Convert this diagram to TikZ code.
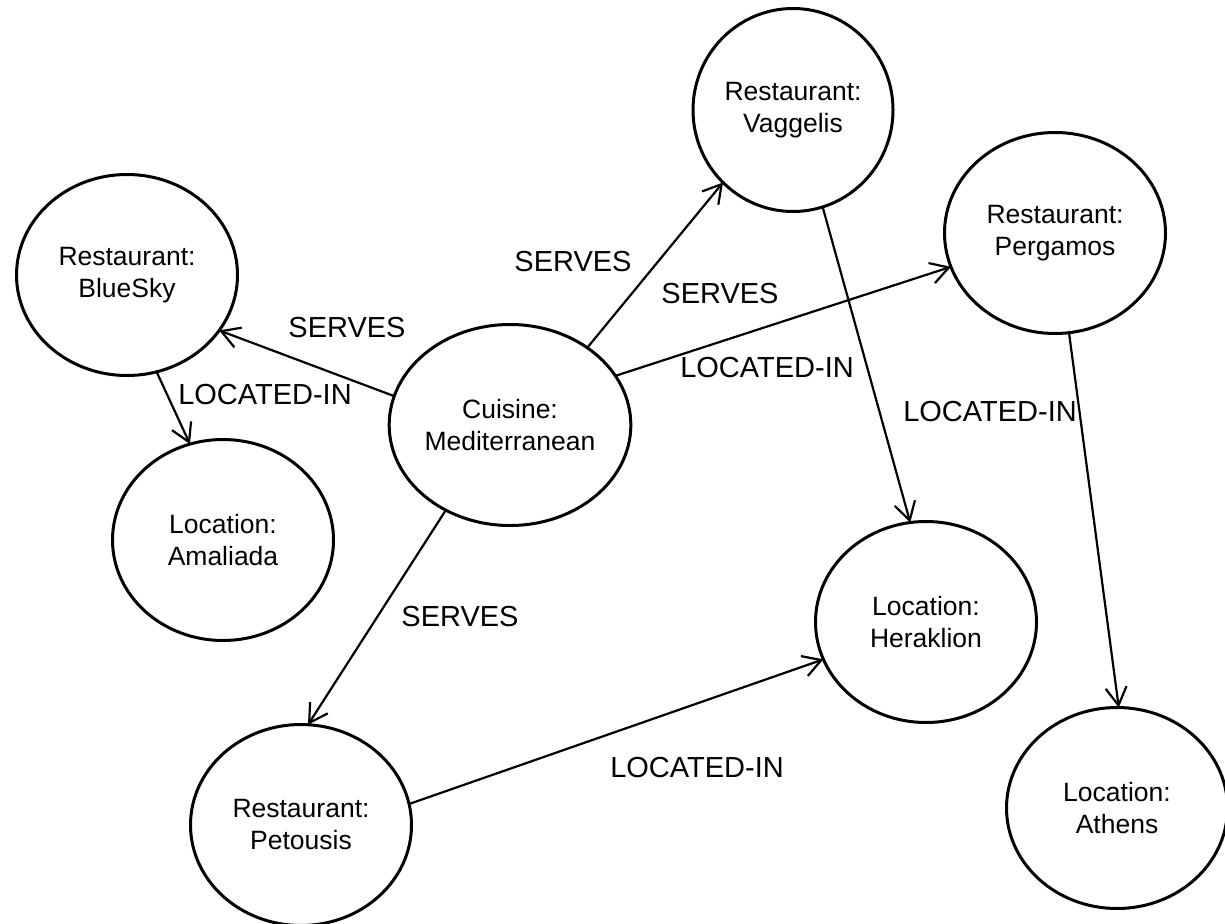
\documentclass[tikz,border=0pt]{standalone}
\usepackage{fontspec}
\setmainfont{Liberation Sans}
\usetikzlibrary{shapes.geometric,arrows.meta}
\begin{document}
\begin{tikzpicture}[x=1pt,y=-1pt,
  entity/.style={draw, ellipse, line width=3pt, minimum width=221pt, minimum height=201pt,
    inner sep=0pt, outer sep=0pt, align=center, font=\fontsize{26.5}{32}\selectfont},
  rel/.style={line width=2.2pt, -{Straight Barb[length=18pt,width=21pt]}},
  lbl/.style={font=\fontsize{29}{35}\selectfont, inner sep=0pt}]
\useasboundingbox (0,0) rectangle (1225,923);

% entities
\node[entity] (med)   at (510,425)  {Cuisine:\\Mediterranean};
\node[entity] (blue)  at (127,275)  {Restaurant:\\BlueSky};
\node[entity] (amal)  at (223,540)  {Location:\\Amaliada};
\node[entity, minimum width=200pt, minimum height=203pt] (vag) at (793,110) {Restaurant:\\Vaggelis};
\node[entity] (perg)  at (1055,233) {Restaurant:\\Pergamos};
\node[entity] (pet)   at (301,825)  {Restaurant:\\Petousis};
\node[entity] (her)   at (926,622)  {Location:\\Heraklion};
\node[entity] (ath)   at (1117,808) {Location:\\Athens};

% relations
\draw[rel] (med.166.6) -- (blue.-31.7);
\draw[rel] (blue.-73.1) -- (amal.109.8);
\draw[rel] (med.45.4)  -- (vag.226.5);
\draw[rel] (med.25.6)  -- (perg.198.3);
\draw[rel] (med.233.7) -- (pet.86.1);
\draw[rel] (vag.-73.8) -- (her.99.1);
\draw[rel] (perg.-82.7) -- (ath.89);
\draw[rel] (pet.11.6)  -- (her.200.4);

% relation labels
\node[lbl] (l1) at (347,328) {SERVES};
\node[lbl] (l2) at (265,395) {LOCATED-IN};
\node[lbl] (l3) at (573,262) {SERVES};
\node[lbl] (l4) at (720,294) {SERVES};
\node[lbl] (l5) at (767,368) {LOCATED-IN};
\node[lbl] (l6) at (990,412) {LOCATED-IN};
\node[lbl] (l7) at (460,617) {SERVES};
\node[lbl] (l8) at (697,768) {LOCATED-IN};
\end{tikzpicture}
\end{document}
